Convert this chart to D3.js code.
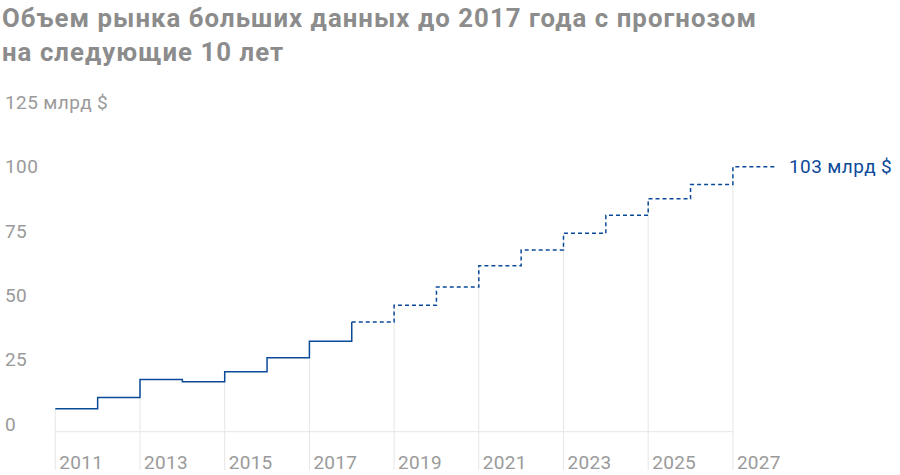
<!DOCTYPE html>
<html><head><meta charset="utf-8">
<script src="https://cdn.jsdelivr.net/npm/d3@7"></script>
<style>body{margin:0;background:#fff}svg{font-family:Roboto,"Noto Sans",sans-serif}</style>
</head><body><svg id="c" width="900" height="475"></svg>
<script>
const years = [2011,2012,2013,2014,2015,2016,2017,2018,2019,2020,2021,2022,2023,2024,2025,2026,2027];
const values = [8.9,13.3,20.3,19.4,23.3,28.7,35.2,42.6,49.1,56.2,64.5,70.6,77.1,84.1,90.5,96.1,103];
const lastActual = 2017;
const yTicks = [0,25,50,75,100,125];
const xTicks = [2011,2013,2015,2017,2019,2021,2023,2025,2027];
const titleLines = ["Объем рынка больших данных до 2017 года с прогнозом","на следующие 10 лет"];

const svg = d3.select("#c");
const blue = "#0b4a9a";
const x = d3.scaleLinear().domain([2011,2028]).range([55.3,55.3+17*42.35]);
const y = d3.scaleLinear().domain([0,103]).range([431.7,166.7]);

const t = svg.selectAll("text.title").data(titleLines).join("text")
  .attr("x",2).attr("y",(d,i)=>27+i*34).attr("font-size",24).attr("font-weight","bold")
  .attr("fill","#8c8c8c").attr("letter-spacing",0).text(d=>d);
const w0 = t.nodes()[0].getComputedTextLength();
const fs = Math.min(30, 24*Math.sqrt(755/w0));
t.attr("font-size",fs);
const w1 = t.nodes()[0].getComputedTextLength();
const ls = (755-w1)/titleLines[0].length;
t.attr("letter-spacing",ls);

// y tick labels
svg.selectAll("text.yt").data(yTicks).join("text")
  .attr("x",5).attr("y",d=>y(d)-1).attr("font-size",19).attr("letter-spacing",0.4).attr("fill","#9a9a9a")
  .text(d=>d===125?"125 млрд $":d);

svg.selectAll("line.vg").data(xTicks).join("line")
  .attr("x1",d=>x(d)).attr("x2",d=>x(d))
  .attr("y1",470).attr("y2",d=>y(values[years.indexOf(d)]))
  .attr("stroke","#e6e6e6").attr("stroke-width",1);
svg.append("line").attr("x1",x(2011)).attr("x2",x(2027)).attr("y1",y(0)).attr("y2",y(0))
  .attr("stroke","#e6e6e6");
svg.selectAll("text.xt").data(xTicks).join("text")
  .attr("x",d=>x(d)+4).attr("y",469).attr("font-size",19).attr("letter-spacing",0.3).attr("fill","#9a9a9a").text(d=>d);

const pts = years.map((yr,i)=>({yr,v:values[i]}));
const solid = pts.filter(p=>p.yr<=lastActual);
const solidPath = d3.path();
solid.forEach((p,i)=>{
  if(i===0) solidPath.moveTo(x(p.yr),y(p.v)); else solidPath.lineTo(x(p.yr),y(p.v));
  solidPath.lineTo(x(p.yr+1),y(p.v));
});
const nextV = values[years.indexOf(lastActual+1)];
solidPath.lineTo(x(lastActual+1),y(nextV));
svg.append("path").attr("d",solidPath.toString()).attr("fill","none").attr("stroke",blue).attr("stroke-width",1.5);

const fc = pts.filter(p=>p.yr>lastActual);
const dp = d3.path();
fc.forEach((p,i)=>{
  if(i===0) dp.moveTo(x(p.yr),y(p.v)); else dp.lineTo(x(p.yr),y(p.v));
  dp.lineTo(i===fc.length-1 ? x(p.yr)+43 : x(p.yr+1),y(p.v));
});
svg.append("path").attr("d",dp.toString()).attr("fill","none").attr("stroke",blue)
  .attr("stroke-width",1.5).attr("stroke-dasharray","4,3");

svg.append("text").attr("x",789).attr("y",y(103)+6).attr("font-size",19).attr("letter-spacing",0.4).attr("fill",blue)
  .text(values[values.length-1]+" млрд $");
</script></body></html>
